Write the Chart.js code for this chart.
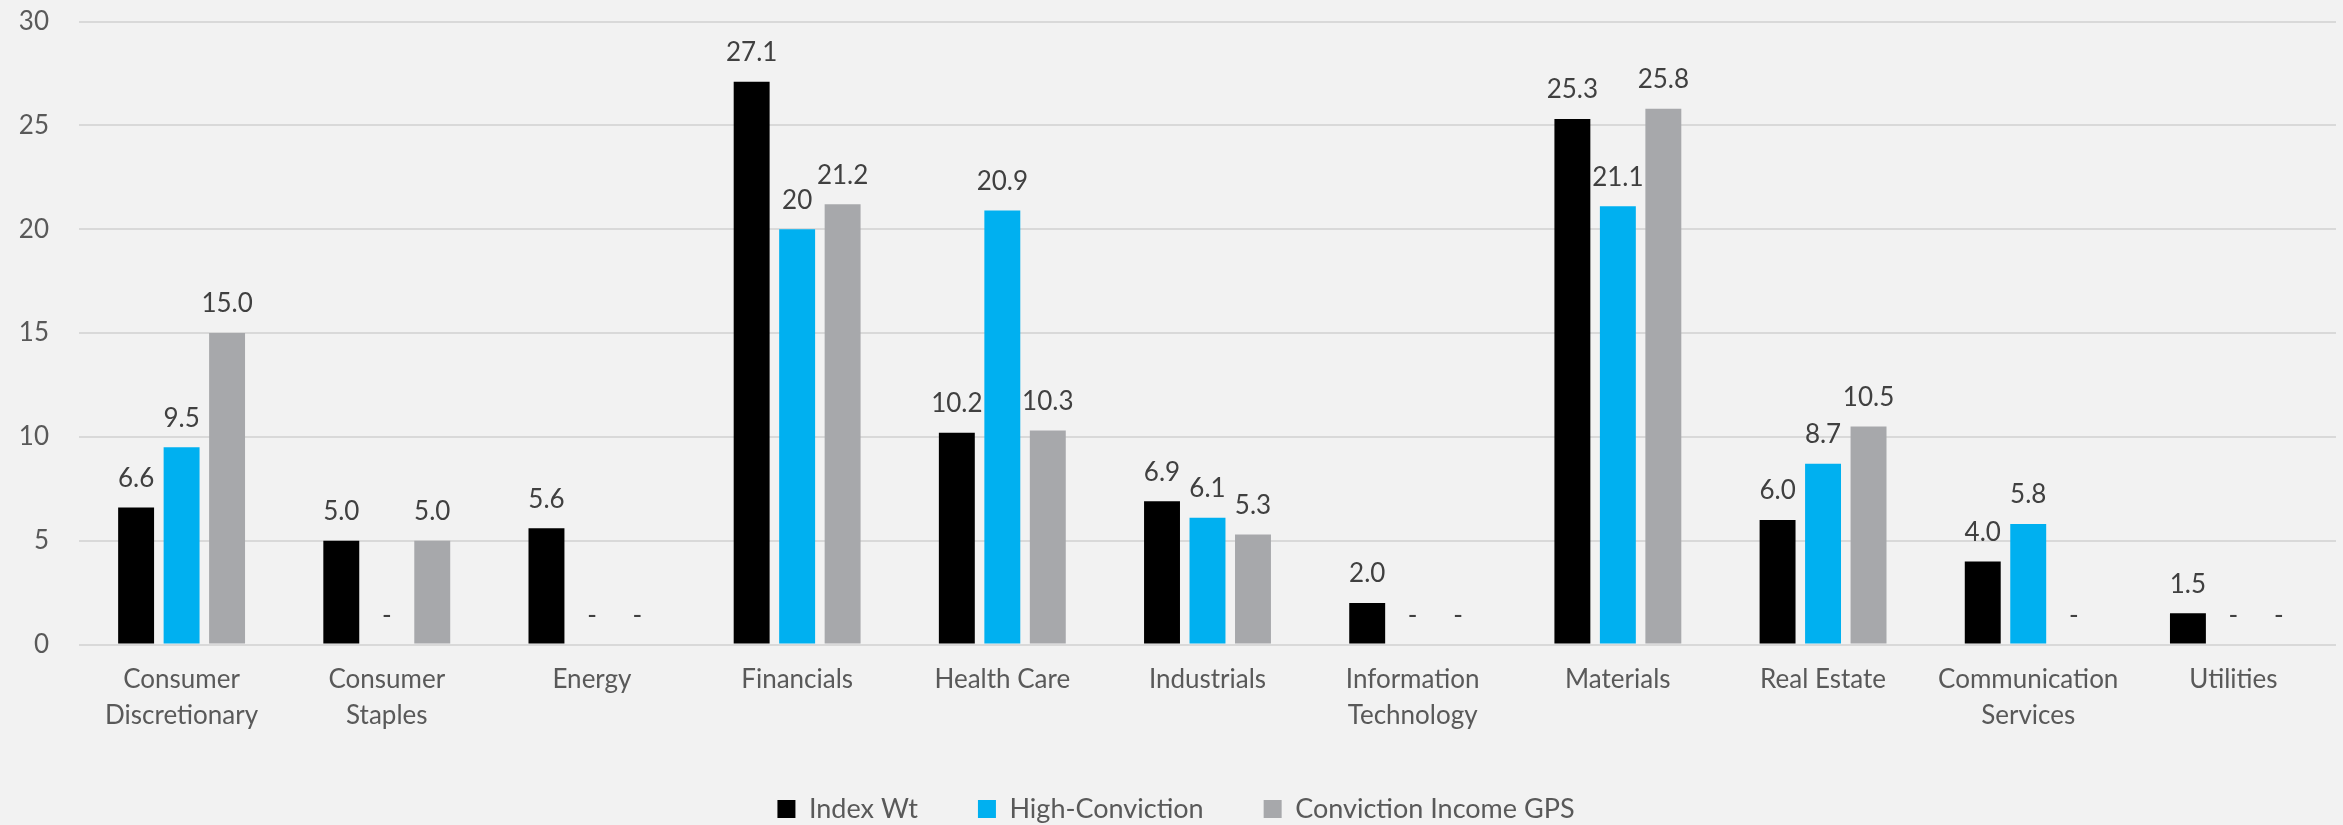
<!DOCTYPE html>
<html>
<head>
<meta charset="utf-8">
<script src="https://cdn.jsdelivr.net/npm/chart.js@4.4.1/dist/chart.umd.min.js"></script>
<style>
    html, body { margin: 0; padding: 0; background: #f2f2f2; }
    #wrap { width: 2343px; height: 825px; }
</style>
</head>
<body>
<div id="wrap"><canvas id="sectorChart" width="2343" height="825"></canvas></div>
<script>
// sector weights (%)
const sectors = [
    ["Consumer", "Discretionary"], ["Consumer", "Staples"], "Energy", "Financials", "Health Care",
    "Industrials", ["Information", "Technology"], "Materials", "Real Estate",
    ["Communication", "Services"], "Utilities"
];
const indexWt        = [6.6, 5.0, 5.6, 27.1, 10.2, 6.9, 2.0, 25.3, 6.0, 4.0, 1.5];
const highConviction = [9.5, 0, 0, 20, 20.9, 6.1, 0, 21.1, 8.7, 5.8, 0];
const incomeGps      = [15.0, 5.0, 0, 21.2, 10.3, 5.3, 0, 25.8, 10.5, 0, 0];

const yTicks = [0, 5, 10, 15, 20, 25, 30];

const FONT = 'Lato';
const FONT_SIZE = 26;

// value on top of each bar, "-" when the sector is not held
const valueLabels = {
    id: 'valueLabels',
    afterDatasetsDraw(chart) {
        const { ctx } = chart;
        ctx.save();
        ctx.font = `${FONT_SIZE}px ${FONT}`;
        ctx.fillStyle = '#404040';
        ctx.textAlign = 'center';
        ctx.textBaseline = 'middle';
        chart.data.datasets.forEach((ds, i) => {
            chart.getDatasetMeta(i).data.forEach((bar, j) => {
                const v = ds.data[j];
                let text;
                if (v === 0) text = '-';
                else text = ds.label === 'High-Conviction' ? String(v) : v.toFixed(1);
                ctx.fillText(text, bar.x, bar.y - 29);
            });
        });
        ctx.restore();
    }
};

const bg = {
    id: 'bg',
    beforeDraw(chart) {
        const { ctx, width, height } = chart;
        ctx.save();
        ctx.fillStyle = '#f2f2f2';
        ctx.fillRect(0, 0, width, height);
        ctx.restore();
    }
};

new Chart(document.getElementById('sectorChart'), {
    type: 'bar',
    data: {
        labels: sectors,
        datasets: [
            { label: 'Index Wt', data: indexWt, backgroundColor: '#000000' },
            { label: 'High-Conviction', data: highConviction, backgroundColor: '#00b0f0' },
            { label: 'Conviction Income GPS', data: incomeGps, backgroundColor: '#a7a8ab' }
        ]
    },
    options: {
        responsive: false,
        animation: false,
        devicePixelRatio: 1,
        categoryPercentage: 0.665,
        barPercentage: 0.79,
        layout: { padding: { top: 21.5, left: 16, right: 7, bottom: -7.5 } },
        scales: {
            x: {
                grid: { display: false, drawTicks: false },
                border: { display: false },
                ticks: {
                    color: '#595959',
                    font: { family: FONT, size: FONT_SIZE, lineHeight: 1.385 },
                    padding: 17,
                    maxRotation: 0,
                    autoSkip: false
                },
                afterFit(scale) { scale.height = 91; }
            },
            y: {
                min: 0,
                max: 30,
                afterBuildTicks(scale) { scale.ticks = yTicks.map(v => ({ value: v })); },
                grid: { color: '#d9d9d9', lineWidth: 2, drawTicks: false },
                border: { display: false },
                ticks: {
                    color: '#595959',
                    font: { family: FONT, size: FONT_SIZE },
                    padding: 30
                },
                afterFit(scale) {
                    scale.width = 63;
                    scale.paddingTop = 0;
                    scale.paddingBottom = 0;
                }
            }
        },
        plugins: {
            legend: {
                position: 'bottom',
                labels: {
                    color: '#595959',
                    font: { family: FONT, size: 27 },
                    boxWidth: 18,
                    boxHeight: 18,
                    padding: 60
                }
            },
            tooltip: { enabled: false }
        }
    },
    plugins: [bg, valueLabels]
});
</script>
</body>
</html>
